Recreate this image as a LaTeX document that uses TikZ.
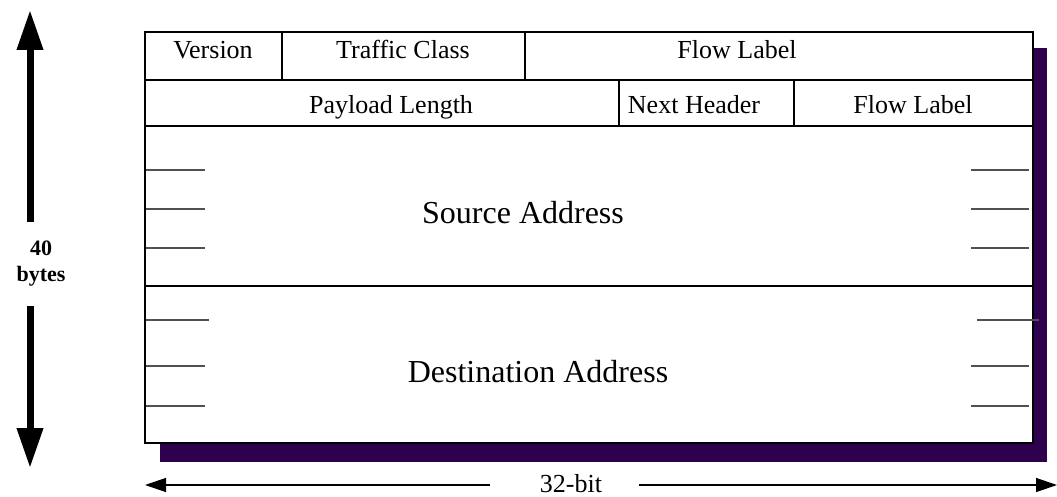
\documentclass[tikz,border=0pt]{standalone}
\usepackage{fontspec}
\setmainfont{Liberation Serif}
\usetikzlibrary{arrows.meta}
\definecolor{shadowpurple}{HTML}{2E004E}
\definecolor{tickgray}{HTML}{505050}
\begin{document}
\begin{tikzpicture}[x=1pt,y=-1pt,
  field/.style={font=\fontsize{26}{30}\selectfont, inner sep=0pt, anchor=base},
  big/.style={font=\fontsize{32}{36}\selectfont, inner sep=0pt, anchor=base},
  frame/.style={line width=2pt},
  divider/.style={line width=1.3pt},
  tickline/.style={line width=1.5pt, draw=tickgray},
  thickarrow/.style={line width=7pt, -{Triangle[length=40pt,width=25pt]}},
  thinarrow/.style={line width=1.3pt, -{Triangle[length=21pt,width=14pt]}}]
\useasboundingbox (0,0) rectangle (1057,497);
% shadow and frame
\fill[shadowpurple] (160,48) rectangle (1047,462);
\draw[frame, fill=white] (145,32) rectangle (1033,443);
% row dividers
\draw[divider] (145,80) -- (1033,80);
\draw[divider] (145,126) -- (1033,126);
\draw[divider] (145,286) -- (1033,286);
% column dividers
\draw[divider] (282,32) -- (282,80);
\draw[divider] (525,32) -- (525,80);
\draw[divider] (619,80) -- (619,126);
\draw[divider] (794,80) -- (794,126);
% fields
\node[field] (version) at (213,59) {Version};
\node[field] (traffic) at (403,59) {Traffic Class};
\node[field] (flow1) at (737,59) {Flow Label};
\node[field] (payload) at (391,114) {Payload Length};
\node[field] (next) at (694,114) {Next Header};
\node[field] (flow2) at (913,114) {Flow Label};
\node[big] (src) at (523,223) {Source Address};
\node[big] (dst) at (538,382) {Destination Address};
% ticks left
\foreach \yy in {170,209,248,366,406} \draw[tickline] (146,\yy) -- (205,\yy);
\draw[tickline] (146,320) -- (209,320);
% ticks right
\foreach \yy in {170,209,248,366,406} \draw[tickline] (971,\yy) -- (1029,\yy);
\draw[tickline] (977,320) -- (1039,320);
% 40 bytes arrow
\node[font=\bfseries\fontsize{22}{26}\selectfont, align=center, inner xsep=0pt, inner ysep=19pt] (bytes) at (41,264) {40\\bytes};
\coordinate (toptip) at (30,10);
\coordinate (bottip) at (30,468);
\draw[thickarrow] (bytes.north -| toptip) -- (toptip);
\draw[thickarrow] (bytes.south -| bottip) -- (bottip);
% 32-bit arrow
\node[font=\fontsize{26}{30}\selectfont, inner sep=0pt, anchor=base] (bits) at (571,492) {32-bit};
\coordinate (lefttip) at (145,485);
\coordinate (righttip) at (1057,485);
\draw[thinarrow, shorten <=50pt] (bits.west |- lefttip) -- (lefttip);
\draw[thinarrow, shorten <=37pt] (bits.east |- righttip) -- (righttip);
\end{tikzpicture}
\end{document}
